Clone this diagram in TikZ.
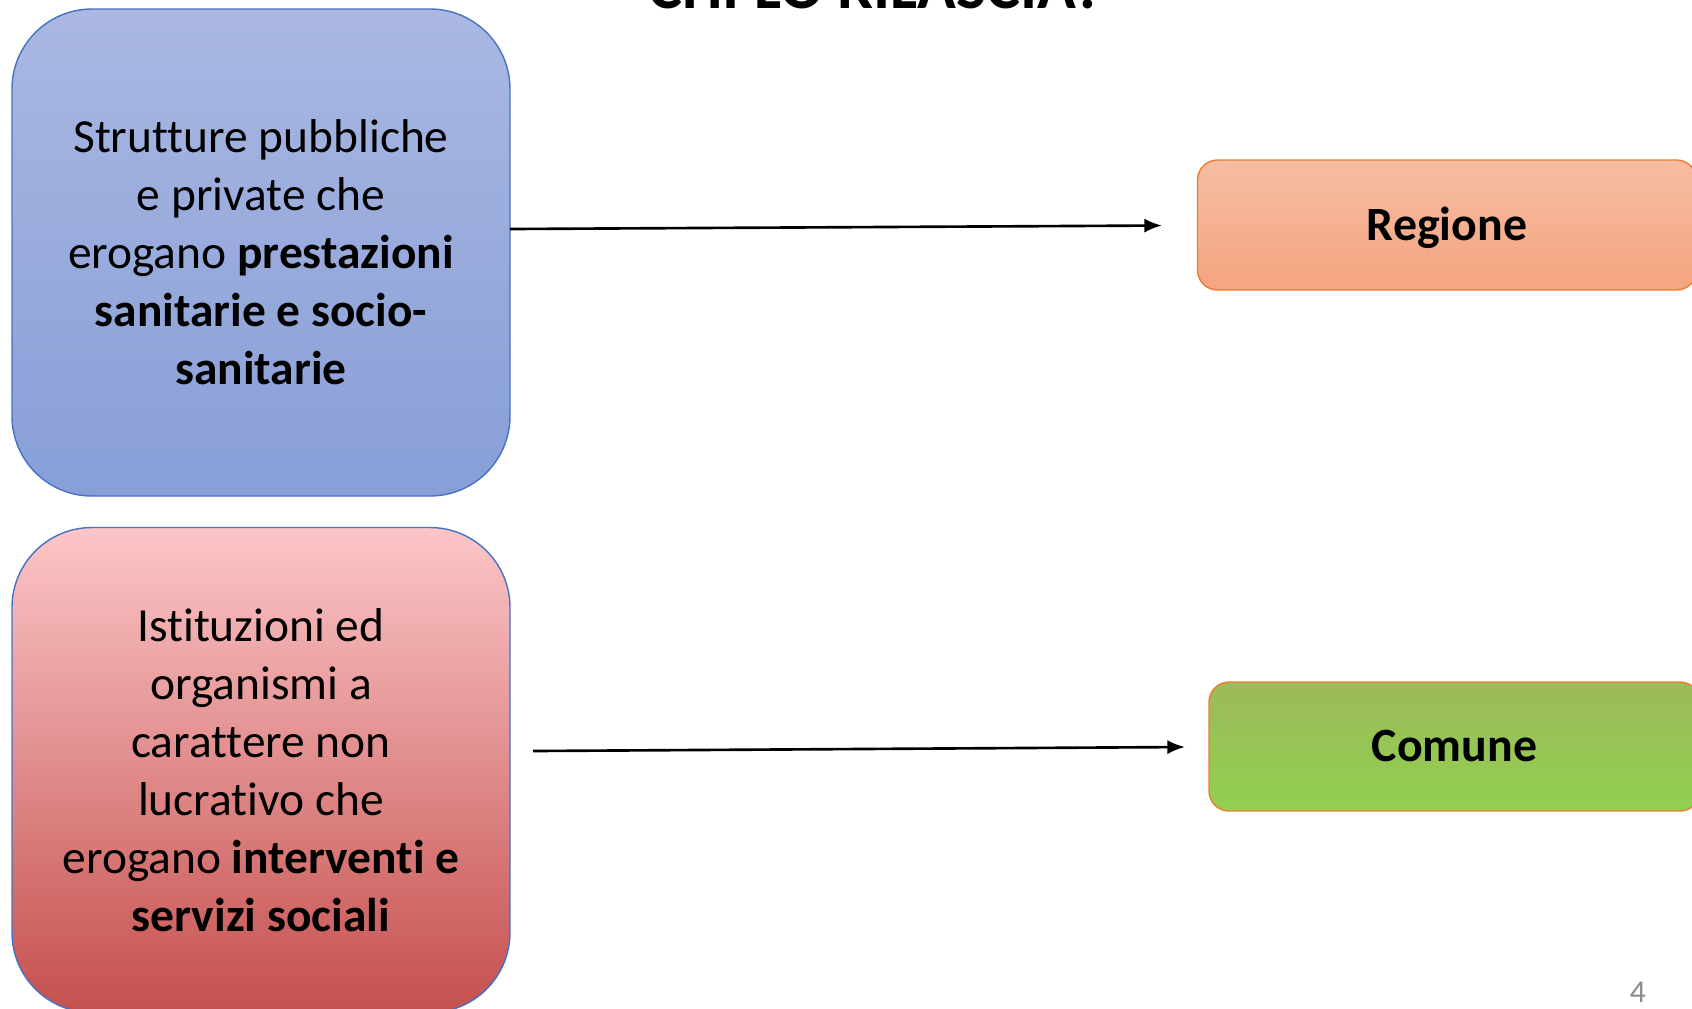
\documentclass[tikz,border=0pt]{standalone}
\usepackage{fontspec}
\setmainfont{Carlito}[Ligatures=CommonOff]
\usetikzlibrary{arrows.meta}

\definecolor{edgeblue}{RGB}{68,114,196}
\definecolor{edgeorange}{RGB}{237,125,49}
\definecolor{bluetop}{RGB}{170,184,226}
\definecolor{bluebot}{RGB}{135,158,215}
\definecolor{redtop}{RGB}{252,198,200}
\definecolor{redbot}{RGB}{196,80,78}
\definecolor{regtop}{RGB}{246,189,162}
\definecolor{regbot}{RGB}{245,164,128}
\definecolor{comtop}{RGB}{156,186,90}
\definecolor{combot}{RGB}{146,208,80}

\tikzset{
  bigbox/.style={draw=edgeblue, line width=0.4pt, rounded corners=8mm,
    minimum width=49.8mm, align=center,
    font=\fontsize{13.5pt}{16.5pt}\selectfont},
  smallbox/.style={draw=edgeorange, line width=0.4pt, rounded corners=2mm,
    minimum width=49.9mm, minimum height=13mm, text height=8.8pt, text depth=0pt,
    font=\fontsize{13.6pt}{16pt}\selectfont\bfseries},
  arr/.style={line width=0.75pt, -{Latex[length=5pt,width=4pt]}}
}

\begin{document}
\begin{tikzpicture}[x=0.1mm, y=-0.1mm]
		%%%%% START %%%%%
		\useasboundingbox (0,0) rectangle (1692,1008);
		\clip (0,0) rectangle (1692,1008);
		
		\node[anchor=base, font=\fontsize{18.2pt}{21pt}\selectfont\bfseries] (title) at (876,8) {CHI LO RILASCIA?};
		
		\node[bigbox, minimum height=48.7mm, top color=bluetop, bottom color=bluebot] (sanit) at (261,252.5)
			{Strutture pubbliche\\ e private che\\ erogano \textbf{prestazioni}\\ \textbf{sanitarie e socio-}\\ \textbf{sanitarie}};
		\node[bigbox, minimum height=48.5mm, top color=redtop, bottom color=redbot] (social) at (261,770)
			{Istituzioni ed\\ organismi a\\ carattere non\\ lucrativo che\\ erogano \textbf{interventi e}\\ \textbf{servizi sociali}};
		
		\node[smallbox, top color=regtop, bottom color=regbot] (regione) at (1447,225) {Regione};
		\node[smallbox, minimum width=49.1mm, minimum height=12.9mm, top color=comtop, bottom color=combot] (comune) at (1454.5,746.5) {Comune};
		
		\coordinate (reg-from) at (510,229);
		\coordinate (reg-to) at (1162,225.5);
		\coordinate (com-from) at (533,751);
		\coordinate (com-to) at (1185,747);
		\draw[arr] (reg-from) -- (reg-to);
		\draw[arr] (com-from) -- (com-to);
		
		\node[text=black!46, font=\fontsize{9pt}{10pt}\selectfont] (pagenum) at (1638,992) {4};
		%%%%% END %%%%%
\end{tikzpicture}
\end{document}
